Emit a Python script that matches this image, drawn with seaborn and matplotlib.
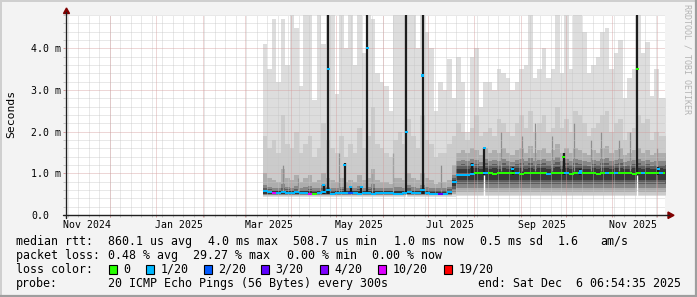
import numpy as np
import pandas as pd
import matplotlib
matplotlib.use("Agg")
import matplotlib.pyplot as plt
from matplotlib.lines import Line2D
from matplotlib.patches import Rectangle, Polygon
import seaborn as sns

# ------------------------------------------------------------------ data
# smoke samples every 3 days starting at smoke_start (values in ms)
smoke_start = "2025-03-13"

ping_max = [4.1, 3.5, 4.7, 3.2, 4.7, 3.6, 4.8, 4.5, 3.1, 4.8,
            4.8, 2.75, 4.8, 4.1, 4.8, 4.8, 2.9, 4.8, 4.0, 4.8,
            3.6, 4.8, 3.9, 4.8, 4.7, 3.4, 3.2, 3.1, 2.5, 4.8,
            4.8, 4.8, 4.8, 4.8, 4.0, 4.8, 4.4, 4.0, 2.5, 3.2,
            3.0, 3.75, 2.8, 3.8, 3.2, 2.0, 3.8, 4.0, 2.6, 3.2,
            3.2, 3.0, 3.5, 3.4, 3.3, 3.0, 3.2, 3.5, 3.6, 4.8,
            3.3, 3.5, 4.0, 3.3, 3.5, 4.8, 3.4, 4.8, 3.5, 4.8,
            4.8, 4.4, 3.4, 3.6, 3.8, 4.4, 4.5, 3.5, 3.9, 4.2,
            2.8, 3.3, 3.5, 4.8, 3.9, 4.15, 2.85, 3.5, 2.8, 2.8]
ping_min = [0.44, 0.44, 0.44, 0.44, 0.44, 0.44, 0.44, 0.44, 0.44, 0.44,
            0.44, 0.44, 0.44, 0.44, 0.44, 0.44, 0.44, 0.44, 0.44, 0.44,
            0.44, 0.44, 0.44, 0.44, 0.44, 0.44, 0.44, 0.44, 0.44, 0.44,
            0.44, 0.44, 0.44, 0.44, 0.44, 0.44, 0.44, 0.44, 0.44, 0.44,
            0.44, 0.44, 0.44, 0.45, 0.45, 0.45, 0.45, 0.45, 0.45, 0.45,
            0.45, 0.45, 0.45, 0.45, 0.45, 0.45, 0.45, 0.45, 0.45, 0.45,
            0.45, 0.45, 0.45, 0.45, 0.45, 0.45, 0.45, 0.45, 0.45, 0.45,
            0.45, 0.45, 0.45, 0.45, 0.45, 0.45, 0.45, 0.45, 0.45, 0.45,
            0.45, 0.45, 0.45, 0.45, 0.45, 0.45, 0.45, 0.45, 0.45, 0.45]
ping_p95 = [1.9, 1.6, 1.8, 1.5, 2.4, 1.7, 1.6, 2.0, 1.5, 1.7,
            1.9, 1.4, 1.6, 2.2, 1.8, 1.6, 1.5, 1.9, 1.4, 1.7,
            1.5, 2.1, 1.6, 1.9, 2.6, 1.7, 1.6, 1.5, 1.4, 1.8,
            2.0, 1.7, 2.3, 1.9, 1.6, 2.4, 1.8, 1.7, 1.4, 1.5,
            1.5, 1.7, 1.9, 2.2, 2.0, 1.8, 2.1, 2.4, 1.9, 2.0,
            2.1, 1.9, 2.3, 2.2, 2.0, 1.9, 2.2, 2.4, 2.1, 2.5,
            2.0, 2.2, 2.4, 2.0, 2.1, 2.6, 2.1, 2.3, 2.0, 2.5,
            2.4, 2.2, 1.9, 2.1, 2.2, 2.4, 2.5, 2.0, 2.2, 2.3,
            1.8, 2.0, 2.1, 2.4, 2.2, 2.3, 1.8, 2.0, 1.9, 1.9]
ping_p05 = [0.46, 0.46, 0.46, 0.46, 0.46, 0.46, 0.46, 0.46, 0.46, 0.46,
            0.46, 0.46, 0.46, 0.46, 0.46, 0.46, 0.46, 0.46, 0.46, 0.46,
            0.46, 0.46, 0.46, 0.46, 0.46, 0.46, 0.46, 0.46, 0.46, 0.46,
            0.46, 0.46, 0.46, 0.46, 0.46, 0.46, 0.46, 0.46, 0.46, 0.46,
            0.46, 0.46, 0.47, 0.48, 0.48, 0.48, 0.48, 0.48, 0.48, 0.48,
            0.48, 0.48, 0.48, 0.48, 0.48, 0.48, 0.48, 0.48, 0.48, 0.48,
            0.48, 0.48, 0.48, 0.48, 0.48, 0.48, 0.48, 0.48, 0.48, 0.48,
            0.48, 0.48, 0.48, 0.48, 0.48, 0.48, 0.48, 0.48, 0.48, 0.48,
            0.48, 0.48, 0.48, 0.48, 0.48, 0.48, 0.48, 0.48, 0.48, 0.48]
ping_p75 = [1.0, 0.9, 0.85, 0.8, 1.1, 0.9, 0.85, 0.95, 0.8, 0.9,
            0.95, 0.8, 0.85, 1.0, 0.9, 0.85, 0.8, 0.9, 0.8, 0.85,
            0.8, 0.95, 0.85, 0.9, 1.1, 0.85, 0.8, 0.8, 0.75, 0.9,
            0.9, 0.85, 1.0, 0.9, 0.85, 1.0, 0.9, 0.85, 0.75, 0.8,
            0.8, 0.85, 1.2, 1.5, 1.55, 1.5, 1.6, 1.55, 1.45, 1.6,
            1.5, 1.55, 1.5, 1.6, 1.5, 1.45, 1.55, 1.6, 1.5, 1.65,
            1.5, 1.55, 1.6, 1.5, 1.55, 1.7, 1.5, 1.6, 1.5, 1.6,
            1.55, 1.5, 1.45, 1.55, 1.5, 1.6, 1.65, 1.5, 1.55, 1.6,
            1.45, 1.5, 1.55, 1.6, 1.5, 1.55, 1.45, 1.5, 1.5, 1.5]
ping_p25 = [0.48, 0.48, 0.48, 0.48, 0.48, 0.48, 0.48, 0.48, 0.48, 0.48,
            0.48, 0.48, 0.48, 0.48, 0.48, 0.48, 0.48, 0.48, 0.48, 0.48,
            0.48, 0.48, 0.48, 0.48, 0.48, 0.48, 0.48, 0.48, 0.48, 0.48,
            0.48, 0.48, 0.48, 0.48, 0.48, 0.48, 0.48, 0.48, 0.48, 0.48,
            0.48, 0.48, 0.50, 0.56, 0.56, 0.56, 0.56, 0.56, 0.56, 0.56,
            0.56, 0.56, 0.56, 0.56, 0.56, 0.56, 0.56, 0.56, 0.56, 0.56,
            0.56, 0.56, 0.56, 0.56, 0.56, 0.56, 0.56, 0.56, 0.56, 0.56,
            0.56, 0.56, 0.56, 0.56, 0.56, 0.56, 0.56, 0.56, 0.56, 0.56,
            0.56, 0.56, 0.56, 0.56, 0.56, 0.56, 0.56, 0.56, 0.56, 0.56]
ping_p60 = [0.72, 0.68, 0.66, 0.66, 0.75, 0.68, 0.66, 0.70, 0.65, 0.68,
            0.70, 0.65, 0.66, 0.72, 0.68, 0.66, 0.65, 0.68, 0.65, 0.66,
            0.65, 0.70, 0.66, 0.68, 0.75, 0.66, 0.65, 0.65, 0.64, 0.68,
            0.68, 0.66, 0.72, 0.68, 0.66, 0.72, 0.68, 0.66, 0.64, 0.65,
            0.65, 0.68, 0.95, 1.30, 1.32, 1.30, 1.35, 1.32, 1.28, 1.35,
            1.30, 1.32, 1.30, 1.35, 1.30, 1.28, 1.32, 1.35, 1.30, 1.38,
            1.30, 1.32, 1.35, 1.30, 1.32, 1.40, 1.30, 1.35, 1.30, 1.35,
            1.32, 1.30, 1.28, 1.32, 1.30, 1.35, 1.38, 1.30, 1.32, 1.35,
            1.28, 1.30, 1.32, 1.35, 1.30, 1.32, 1.28, 1.30, 1.30, 1.30]
ping_p40 = [0.49, 0.49, 0.49, 0.49, 0.49, 0.49, 0.49, 0.49, 0.49, 0.49,
            0.49, 0.49, 0.49, 0.49, 0.49, 0.49, 0.49, 0.49, 0.49, 0.49,
            0.49, 0.49, 0.49, 0.49, 0.49, 0.49, 0.49, 0.49, 0.49, 0.49,
            0.49, 0.49, 0.49, 0.49, 0.49, 0.49, 0.49, 0.49, 0.49, 0.49,
            0.49, 0.49, 0.55, 0.66, 0.66, 0.66, 0.66, 0.66, 0.66, 0.66,
            0.66, 0.66, 0.66, 0.66, 0.66, 0.66, 0.66, 0.66, 0.66, 0.66,
            0.66, 0.66, 0.66, 0.66, 0.66, 0.66, 0.66, 0.66, 0.66, 0.66,
            0.66, 0.66, 0.66, 0.66, 0.66, 0.66, 0.66, 0.66, 0.66, 0.66,
            0.66, 0.66, 0.66, 0.66, 0.66, 0.66, 0.66, 0.66, 0.66, 0.66]
ping_p58 = [0.64, 0.62, 0.61, 0.61, 0.66, 0.62, 0.61, 0.63, 0.60, 0.61,
            0.63, 0.60, 0.61, 0.64, 0.64, 0.60, 0.60, 0.62, 0.60, 0.61,
            0.60, 0.63, 0.61, 0.62, 0.66, 0.61, 0.61, 0.60, 0.60, 0.61,
            0.61, 0.61, 0.64, 0.61, 0.61, 0.65, 0.61, 0.60, 0.59, 0.60,
            0.60, 0.63, 0.90, 1.20, 1.22, 1.20, 1.24, 1.22, 1.18, 1.24,
            1.20, 1.22, 1.20, 1.24, 1.20, 1.18, 1.22, 1.24, 1.20, 1.26,
            1.20, 1.22, 1.24, 1.20, 1.22, 1.28, 1.20, 1.24, 1.20, 1.24,
            1.22, 1.20, 1.18, 1.22, 1.20, 1.24, 1.26, 1.20, 1.22, 1.24,
            1.18, 1.20, 1.22, 1.24, 1.20, 1.22, 1.18, 1.20, 1.20, 1.20]
ping_p42 = [0.495, 0.495, 0.495, 0.495, 0.495, 0.495, 0.495, 0.495, 0.495, 0.495,
            0.495, 0.495, 0.495, 0.495, 0.495, 0.495, 0.495, 0.495, 0.495, 0.495,
            0.495, 0.495, 0.495, 0.495, 0.495, 0.495, 0.495, 0.495, 0.495, 0.495,
            0.495, 0.495, 0.495, 0.495, 0.495, 0.495, 0.495, 0.495, 0.495, 0.495,
            0.495, 0.495, 0.62, 0.75, 0.75, 0.75, 0.75, 0.75, 0.75, 0.75,
            0.75, 0.75, 0.75, 0.75, 0.75, 0.75, 0.75, 0.75, 0.75, 0.75,
            0.75, 0.75, 0.75, 0.75, 0.75, 0.75, 0.75, 0.75, 0.75, 0.75,
            0.75, 0.75, 0.75, 0.75, 0.75, 0.75, 0.75, 0.75, 0.75, 0.75,
            0.75, 0.75, 0.75, 0.75, 0.75, 0.75, 0.75, 0.75, 0.75, 0.75]
ping_p55 = [0.60, 0.58, 0.57, 0.57, 0.60, 0.58, 0.57, 0.59, 0.57, 0.57,
            0.58, 0.56, 0.57, 0.59, 0.60, 0.56, 0.57, 0.58, 0.57, 0.58,
            0.57, 0.58, 0.57, 0.58, 0.59, 0.57, 0.58, 0.57, 0.57, 0.57,
            0.57, 0.58, 0.59, 0.57, 0.57, 0.60, 0.57, 0.56, 0.56, 0.56,
            0.56, 0.59, 0.85, 1.10, 1.10, 1.10, 1.12, 1.12, 1.10, 1.12,
            1.10, 1.12, 1.10, 1.12, 1.10, 1.10, 1.12, 1.12, 1.10, 1.14,
            1.10, 1.12, 1.12, 1.10, 1.12, 1.15, 1.10, 1.12, 1.10, 1.12,
            1.12, 1.10, 1.10, 1.12, 1.10, 1.12, 1.14, 1.10, 1.12, 1.12,
            1.10, 1.10, 1.12, 1.12, 1.10, 1.12, 1.10, 1.10, 1.12, 1.10]
ping_p45 = [0.50, 0.50, 0.50, 0.50, 0.50, 0.50, 0.50, 0.50, 0.50, 0.50,
            0.50, 0.50, 0.50, 0.50, 0.50, 0.50, 0.50, 0.50, 0.50, 0.50,
            0.50, 0.50, 0.50, 0.50, 0.50, 0.50, 0.50, 0.50, 0.50, 0.50,
            0.50, 0.50, 0.50, 0.50, 0.50, 0.50, 0.50, 0.50, 0.50, 0.50,
            0.50, 0.50, 0.70, 0.84, 0.84, 0.84, 0.84, 0.84, 0.84, 0.84,
            0.84, 0.84, 0.84, 0.84, 0.84, 0.84, 0.84, 0.84, 0.84, 0.84,
            0.84, 0.84, 0.84, 0.84, 0.84, 0.84, 0.84, 0.84, 0.84, 0.84,
            0.84, 0.84, 0.84, 0.84, 0.84, 0.84, 0.84, 0.84, 0.84, 0.84,
            0.84, 0.84, 0.84, 0.84, 0.84, 0.84, 0.84, 0.84, 0.84, 0.84]

median_rtt = [0.58, 0.55, 0.52, 0.53, 0.56, 0.53, 0.53, 0.55, 0.53, 0.52,
              0.51, 0.50, 0.52, 0.55, 0.60, 0.50, 0.52, 0.53, 0.52, 0.53,
              0.52, 0.51, 0.52, 0.53, 0.51, 0.52, 0.53, 0.52, 0.52, 0.51,
              0.51, 0.52, 0.55, 0.52, 0.52, 0.60, 0.52, 0.51, 0.51, 0.51,
              0.51, 0.55, 0.80, 0.97, 0.96, 0.96, 0.98, 1.00, 1.00, 1.01,
              1.00, 0.99, 1.00, 1.00, 1.01, 1.00, 1.00, 0.99, 1.00, 1.00,
              1.01, 1.00, 1.00, 0.99, 1.00, 1.00, 1.01, 1.00, 0.99, 1.00,
              1.00, 1.01, 1.00, 1.00, 0.99, 1.00, 1.00, 1.00, 1.01, 1.00,
              1.00, 1.00, 0.99, 1.00, 1.00, 1.01, 1.00, 1.00, 1.00, 1.00]
median_loss = ["1/20", "1/20", "10/20", "1/20", "1/20", "1/20", "1/20", "1/20", "1/20", "1/20",
               "10/20", "0", "1/20", "1/20", "1/20", "1/20", "1/20", "1/20", "1/20", "2/20",
               "1/20", "1/20", "1/20", "1/20", "1/20", "1/20", "1/20", "1/20", "1/20", "1/20",
               "1/20", "1/20", "1/20", "1/20", "1/20", "1/20", "1/20", "1/20", "1/20", "3/20",
               "1/20", "1/20", "1/20", "1/20", "1/20", "1/20", "1/20", "0", "0", "1/20",
               "0", "0", "0", "0", "0", "0", "1/20", "0", "0", "0",
               "0", "0", "0", "1/20", "0", "0", "0", "1/20", "0", "0",
               "1/20", "0", "0", "0", "0", "0", "1/20", "0", "1/20", "0",
               "0", "0", "0", "0", "1/20", "0", "0", "0", "1/20", "0"]

# narrow dark spikes (all pings of the interval high)
spike_dates = ["2025-04-22", "2025-04-25", "2025-05-06", "2025-05-10", "2025-05-17",
               "2025-05-21", "2025-06-16", "2025-06-27", "2025-07-30", "2025-08-07",
               "2025-08-26", "2025-09-29", "2025-10-10", "2025-11-17", "2025-12-01"]
spike_base = [0.50, 0.50, 0.50, 0.50, 0.50, 0.50, 0.50, 0.50, 0.95, 0.95,
              0.95, 0.95, 0.95, 0.95, 0.95]
spike_top = [0.75, 4.8, 1.25, 0.70, 0.70, 4.8, 4.8, 4.8, 1.25, 1.6,
             1.15, 1.5, 1.1, 4.8, 1.15]
spike_median = [0.72, 3.5, 1.2, 0.67, 0.68, 4.0, 2.0, 3.35, 1.2, 1.6,
                1.1, 1.4, 1.05, 3.5, 1.1]
spike_loss = ["1/20", "1/20", "1/20", "1/20", "1/20", "1/20", "1/20", "1/20", "1/20", "1/20",
              "1/20", "0", "1/20", "0", "1/20"]

# thin grey streaks inside the smoke
streak_dates = ["2025-03-26", "2025-04-05", "2025-05-02", "2025-05-24", "2025-06-07",
                "2025-07-09", "2025-08-18", "2025-09-01", "2025-09-10", "2025-09-21",
                "2025-10-06", "2025-10-17", "2025-10-24", "2025-11-05", "2025-11-12",
                "2025-11-30"]
streak_base = [0.55, 0.55, 0.55, 0.55, 0.55, 0.55, 1.05, 1.05, 1.05, 1.05,
               1.05, 1.05, 1.05, 1.05, 1.05, 1.05]
streak_top = [1.2, 0.9, 1.5, 1.0, 1.5, 1.2, 2.0, 1.9, 2.2, 1.9,
              2.2, 1.8, 2.0, 1.8, 2.0, 1.6]

# white data gaps below the median
gap_dates = ["2025-06-16", "2025-08-07", "2025-11-17"]
gap_top = [0.50, 0.95, 0.95]

loss_labels = ["0", "1/20", "2/20", "3/20", "4/20", "10/20", "19/20"]
loss_hex = ["#26ff00", "#00b8ff", "#0059ff", "#5e00ff", "#7e00ff", "#dd00ff", "#ff0000"]

y_ticks = [0, 1, 2, 3, 4]
y_tick_labels = ["0.0", "1.0 m", "2.0 m", "3.0 m", "4.0 m"]
x_tick_dates = ["2024-11-16", "2025-01-16", "2025-03-17", "2025-05-16",
                "2025-07-16", "2025-09-15", "2025-11-15"]
x_tick_labels = ["Nov 2024", "Jan 2025", "Mar 2025", "May 2025",
                 "Jul 2025", "Sep 2025", "Nov 2025"]

stats_rtt = [("median rtt:", 16), ("860.1 us avg", 108), ("4.0 ms max", 208),
             ("508.7 us min", 293), ("1.0 ms now", 394), ("0.5 ms sd", 480),
             ("1.6", 558), ("am/s", 600)]
stats_loss = [("packet loss:", 16), ("0.48 % avg", 108), ("29.27 % max", 193),
              ("0.00 % min", 287), ("0.00 % now", 372)]
legend_box_x = [109, 146, 204, 261, 320, 378, 444]
probe_line = [("probe:", 16), ("20 ICMP Echo Pings (56 Bytes) every 300s", 108),
              ("end: Sat Dec  6 06:54:35 2025", 478)]

# ------------------------------------------------------------------ style
sns.set_theme(style="white")
plt.rcParams["font.family"] = ["DejaVu Sans Mono", "DejaVu Sans"]
plt.rcParams["text.color"] = "#000000"

W, H = 697, 297
fig = plt.figure(figsize=(W / 100, H / 100), dpi=100)
fig.patch.set_facecolor("#f3f3f3")


def fx(p):
    return p / W


def fy(p):
    return 1 - p / H


ax = fig.add_axes([fx(65.4), fy(215), 600 / W, 200 / H])
ax.set_facecolor("white")
for s in ax.spines.values():
    s.set_visible(False)

end_t = pd.Timestamp("2025-12-06 06:54:35")
start_t = end_t - pd.Timedelta(days=400)

# ------------------------------------------------------------------ smoke
dates = pd.date_range(smoke_start, periods=len(ping_max), freq="3D")
edges = dates.append(pd.DatetimeIndex([dates[-1] + pd.Timedelta(days=3)]))


def ext(a):
    a = np.asarray(a, float)
    return np.append(a, a[-1])


bands = [(ping_min, ping_max, "#dddddd"),
         (ping_p05, ping_p95, "#cbcbcb"),
         (ping_p25, ping_p75, "#adadad"),
         (ping_p40, ping_p60, "#868686"),
         (ping_p42, ping_p58, "#5e5e5e"),
         (ping_p45, ping_p55, "#383838")]
for lo, hi, c in bands:
    ax.fill_between(edges, ext(lo), ext(hi), step="post", color=c,
                    linewidth=0, zorder=1)

st_x = pd.to_datetime(streak_dates) + pd.Timedelta(hours=12)
ax.vlines(st_x, streak_base, streak_top, colors="#8e8e8e", linewidth=0.9, zorder=1.1)

gap_x = pd.to_datetime(gap_dates) + pd.Timedelta(hours=12)
ax.vlines(gap_x, 0.42, gap_top, colors="#ffffff", linewidth=1.0, zorder=1.2)

sp_x = pd.to_datetime(spike_dates) + pd.Timedelta(hours=12)
ax.vlines(sp_x, spike_base, spike_top, colors="#1c1c1c", linewidth=1.6, zorder=3)

palette = dict(zip(loss_labels, loss_hex))
rect_marker = [(-1, -0.4), (1, -0.4), (1, 0.4), (-1, 0.4), (-1, -0.4)]
med_df = pd.DataFrame({"t": dates + pd.Timedelta(hours=36),
                       "rtt": median_rtt, "loss": median_loss})
sns.scatterplot(data=med_df, x="t", y="rtt", hue="loss", palette=palette,
                marker=rect_marker, s=13, linewidth=0, legend=False, ax=ax, zorder=4)
sp_df = pd.DataFrame({"t": sp_x, "rtt": spike_median, "loss": spike_loss})
sm_marker = [(-1, -0.7), (1, -0.7), (1, 0.7), (-1, 0.7), (-1, -0.7)]
sns.scatterplot(data=sp_df, x="t", y="rtt", hue="loss", palette=palette,
                marker=sm_marker, s=5, linewidth=0, legend=False, ax=ax, zorder=4)

ax.set_xlim(start_t, end_t)
ax.set_ylim(0, 4.8)
ax.set_xlabel("")
ax.set_ylabel("")

# ------------------------------------------------------------------ grid
minor_c = "#c4c4c4"
major_c = "#d49a9a"
dots = [(0, (1, 1))]
weeks = pd.date_range(start_t.normalize(), end_t, freq="W-SUN")
months = pd.date_range("2024-12-01", end_t, freq="MS")
xt = ax.get_xaxis_transform()
yt = ax.get_yaxis_transform()
ax.vlines(weeks, 0, 1, transform=xt, colors=minor_c, linestyles=dots,
          linewidth=0.72, zorder=2.5, alpha=0.75)
ax.vlines(months, 0, 1, transform=xt, colors=major_c, linestyles=dots,
          linewidth=0.72, zorder=2.6, alpha=0.8)
ax.vlines(weeks, -0.012, 0, transform=xt, colors=minor_c, linewidth=0.72,
          clip_on=False, zorder=2.5)
ax.vlines(months, -0.012, 0, transform=xt, colors=major_c, linewidth=0.72,
          clip_on=False, zorder=2.6)
minor_y = [v / 5 for v in range(1, 25) if v % 5 != 0]
ax.hlines(minor_y, 0, 1, transform=yt, colors=minor_c, linestyles=dots,
          linewidth=0.72, zorder=2.5, alpha=0.75)
ax.hlines(y_ticks[1:], 0, 1, transform=yt, colors=major_c, linestyles=dots,
          linewidth=0.72, zorder=2.6, alpha=0.8)
ax.hlines(minor_y, -0.004, 0, transform=yt, colors=minor_c, linewidth=0.72,
          clip_on=False)
ax.hlines(y_ticks[1:], -0.004, 0, transform=yt, colors=major_c, linewidth=0.72,
          clip_on=False)
ax.grid(False)

ax.set_yticks(y_ticks, labels=y_tick_labels)
ax.tick_params(axis="y", length=0, pad=24.8, labelsize=7.1, labelcolor="#000000")
for lbl in ax.get_yticklabels():
    lbl.set_horizontalalignment("left")
ax.set_xticks(pd.to_datetime(x_tick_dates), labels=x_tick_labels)
ax.tick_params(axis="x", length=0, pad=3.5, labelsize=7.1, labelcolor="#000000")

# ------------------------------------------------------------------ axes + arrows
axis_c = "#202020"
fig.add_artist(Line2D([fx(63), fx(669)], [fy(215.3), fy(215.3)], color=axis_c, lw=1.0))
fig.add_artist(Line2D([fx(66.3), fx(66.3)], [fy(218), fy(12)], color=axis_c, lw=1.0))
fig.add_artist(Polygon([(fx(63.5), fy(13.5)), (fx(69.5), fy(13.5)), (fx(66.5), fy(8))],
                       closed=True, color="#7f0000", transform=fig.transFigure))
fig.add_artist(Polygon([(fx(668), fy(212)), (fx(668), fy(218.5)), (fx(674), fy(215.3))],
                       closed=True, color="#7f0000", transform=fig.transFigure))

# frame
fig.add_artist(Line2D([0, 1], [fy(0.5), fy(0.5)], color="#cfcfcf", lw=1.4))
fig.add_artist(Line2D([fx(0.5), fx(0.5)], [0, 1], color="#cfcfcf", lw=1.4))
fig.add_artist(Line2D([0, 1], [fy(296), fy(296)], color="#9e9e9e", lw=1.6))
fig.add_artist(Line2D([fx(696), fx(696)], [0, 1], color="#9e9e9e", lw=1.6))

# ------------------------------------------------------------------ texts
fig.text(fx(11), fy(114), "Seconds", rotation=90, ha="center", va="center", fontsize=8.2)
fig.text(fx(687.5), fy(4), "RRDTOOL / TOBI OETIKER", rotation=270, ha="center",
         va="top", fontsize=6.0, color="#b4b4b4")

LF = 8.4
for txt, x in stats_rtt:
    fig.text(fx(x), fy(245), txt, fontsize=LF, ha="left", va="baseline")
for txt, x in stats_loss:
    fig.text(fx(x), fy(259), txt, fontsize=LF, ha="left", va="baseline")
fig.text(fx(16), fy(273), "loss color:", fontsize=LF, ha="left", va="baseline")
for bx, lab, col in zip(legend_box_x, loss_labels, loss_hex):
    fig.add_artist(Rectangle((fx(bx), fy(273.5)), 8 / W, 8.5 / H, facecolor=col,
                             edgecolor="#000000", lw=0.8, transform=fig.transFigure))
    fig.text(fx(bx + 14.5), fy(273), lab, fontsize=LF, ha="left", va="baseline")
for txt, x in probe_line:
    fig.text(fx(x), fy(287), txt, fontsize=LF, ha="left", va="baseline")

fig.savefig("out.png", dpi=100, facecolor=fig.get_facecolor())
